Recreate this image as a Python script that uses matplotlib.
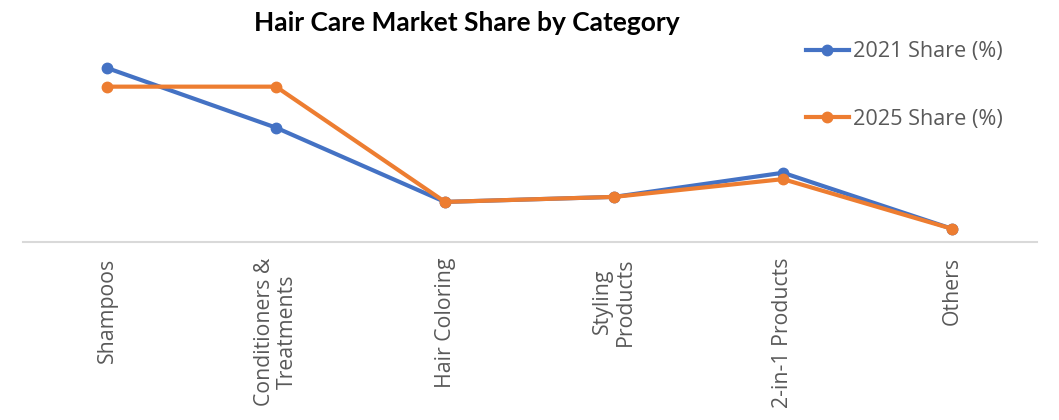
import matplotlib
matplotlib.use("Agg")
import matplotlib.pyplot as plt

categories = ["Shampoos", "Conditioners &\nTreatments", "Hair Coloring",
              "Styling\nProducts", "2-in-1 Products", "Others"]
share_2021 = [38.2, 25.1, 8.8, 9.9, 15.2, 2.9]
share_2025 = [34.1, 34.1, 8.8, 9.9, 13.8, 2.9]

fig = plt.figure(figsize=(10.59, 4.2), dpi=100)
ax = fig.add_axes([22.5 / 1059, 1 - 242 / 420, 1014 / 1059, 205 / 420])

x = list(range(len(categories)))
ax.plot(x, share_2021, color="#4472C4", lw=3, marker="o", ms=7.5, label="2021 Share (%)")
ax.plot(x, share_2025, color="#ED7D31", lw=3, marker="o", ms=7.5, label="2025 Share (%)")

ax.set_xlim(-0.5, 5.5)
ax.set_ylim(0, 45)
ax.set_yticks([])
ax.set_xticks(x)
ax.set_xticklabels(categories, rotation=90, family="Open Sans", fontsize=15.3,
                   color="#595959", linespacing=1.15)
ax.tick_params(axis="x", length=0, pad=11)
for s in ["top", "right", "left"]:
    ax.spines[s].set_visible(False)
ax.spines["bottom"].set_color("#D9D9D9")
ax.spines["bottom"].set_linewidth(1.5)

fig.text(467 / 1059, 1 - 23 / 420, "Hair Care Market Share by Category",
         ha="center", va="center", family="Lato", fontweight="bold", fontsize=19)

fig.legend(loc="upper left", bbox_to_anchor=(786 / 1059, 1 - 22 / 420),
           frameon=False, prop={"family": "Open Sans", "size": 15.6},
           labelcolor="#595959", handlelength=2.0, handletextpad=0.2, labelspacing=2.15)

fig.savefig("out.png", dpi=100)
